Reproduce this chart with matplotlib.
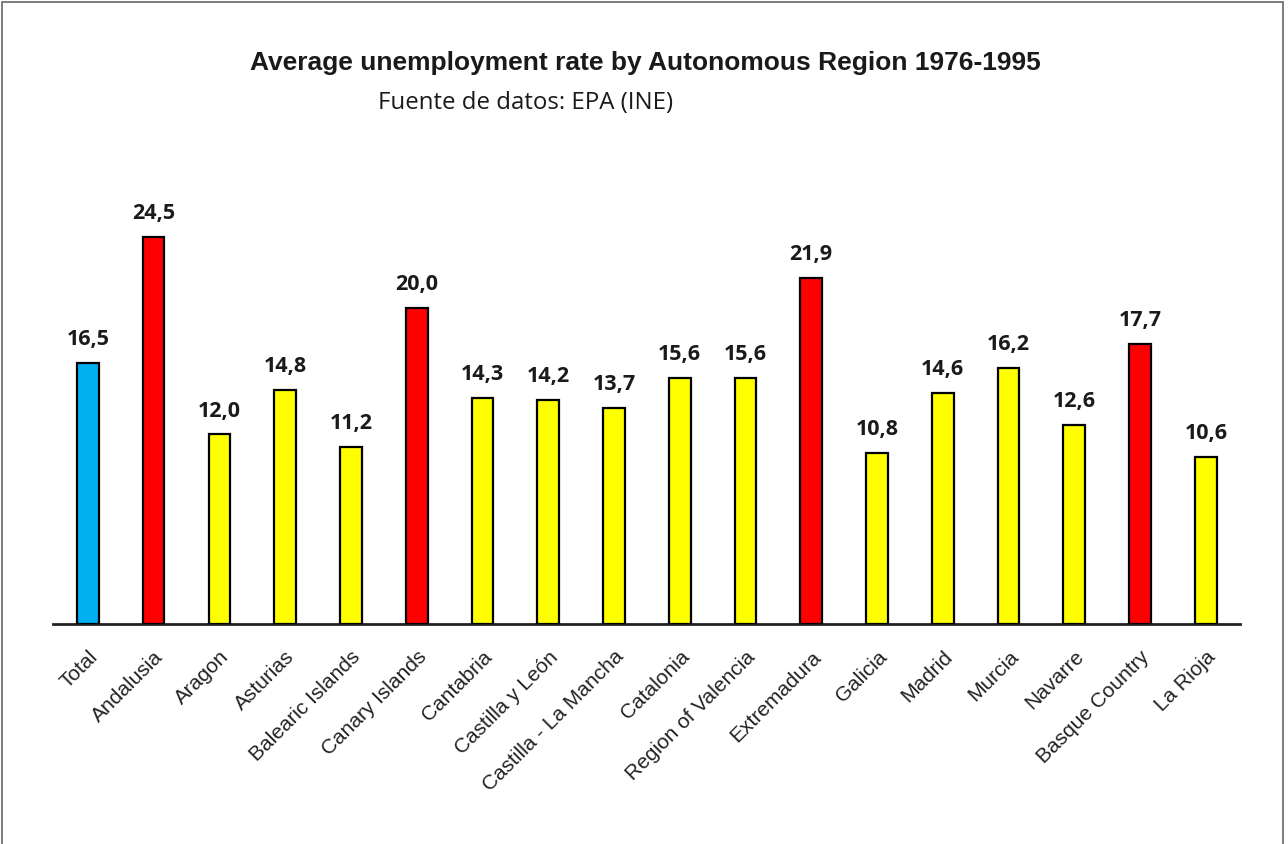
import matplotlib.pyplot as plt
from matplotlib import font_manager
from matplotlib.font_manager import FontProperties
from matplotlib.patches import Rectangle

# Average unemployment rate (%), 1976-1995
regions = ['Total', 'Andalusia', 'Aragon', 'Asturias', 'Balearic Islands',
           'Canary Islands', 'Cantabria', 'Castilla y León',
           'Castilla - La Mancha', 'Catalonia', 'Region of Valencia',
           'Extremadura', 'Galicia', 'Madrid', 'Murcia', 'Navarre',
           'Basque Country', 'La Rioja']
rates = [16.5, 24.5, 12.0, 14.8, 11.2, 20.0, 14.3, 14.2, 13.7, 15.6, 15.6,
         21.9, 10.8, 14.6, 16.2, 12.6, 17.7, 10.6]
groups = ['total', 'high', 'mid', 'mid', 'mid', 'high', 'mid', 'mid', 'mid',
          'mid', 'mid', 'high', 'mid', 'mid', 'mid', 'mid', 'high', 'mid']

palette = {'total': '#00B0F0', 'high': '#FF0000', 'mid': '#FFFF00'}


def liberation(name, size):
    # pick the regular-width Liberation Sans file, not the Narrow variant
    for path in font_manager.findSystemFonts():
        if path.endswith(name):
            return FontProperties(fname=path, size=size)
    weight = 'bold' if 'Bold' in name else 'normal'
    return FontProperties(family='Liberation Sans', weight=weight, size=size)


W, H = 1288, 845
fig = plt.figure(figsize=(W / 100, H / 100), dpi=100)
fig.patch.set_facecolor('white')

# axes box in pixel terms: baseline at y=625, top at y=150
left, right = 53, 1240
ax = fig.add_axes([left / W, 1 - 625 / H, (right - left) / W, (625 - 150) / H])

x = range(len(regions))
colors = [palette[g] for g in groups]
ax.bar(x, rates, width=0.33, color=colors, edgecolor='black', linewidth=1.6,
       zorder=3)

for i, v in enumerate(rates):
    ax.annotate(f'{v:.1f}'.replace('.', ','), xy=(i, v), xytext=(0, 10),
                textcoords='offset points', ha='center', va='bottom',
                fontsize=15.5, fontweight='bold', family='Open Sans',
                color='#1a1a1a')

ax.set_xlim(-0.53, len(regions) - 0.48)
ax.set_ylim(0, (625 - 150) / 15.8)
ax.set_xticks(list(x))
ax.set_xticklabels(regions, rotation=45, ha='right', rotation_mode='anchor',
                   fontproperties=liberation('LiberationSans-Regular.ttf', 15),
                   color='#222222')
ax.tick_params(axis='x', length=0, pad=16)
ax.set_yticks([])

for side in ['top', 'right', 'left']:
    ax.spines[side].set_visible(False)
ax.spines['bottom'].set_linewidth(2)
ax.spines['bottom'].set_color('#222222')
ax.set_facecolor('none')

fig.text(645 / W, 1 - 63 / H,
         'Average unemployment rate by Autonomous Region 1976-1995',
         ha='center', va='center',
         fontproperties=liberation('LiberationSans-Bold.ttf', 19),
         color='#1a1a1a')
fig.text(378 / W, 1 - 103 / H, 'Fuente de datos: EPA (INE)',
         ha='left', va='center', fontsize=17.3, family='Open Sans',
         color='#1a1a1a')

# thin gray frame around the whole chart
fig.patches.append(Rectangle((2 / W, -0.01), 1281 / W, 1.01 - 3 / H,
                             transform=fig.transFigure, fill=False,
                             edgecolor='#666666', linewidth=1.2))

fig.savefig('out.png', dpi=100, facecolor='white')
